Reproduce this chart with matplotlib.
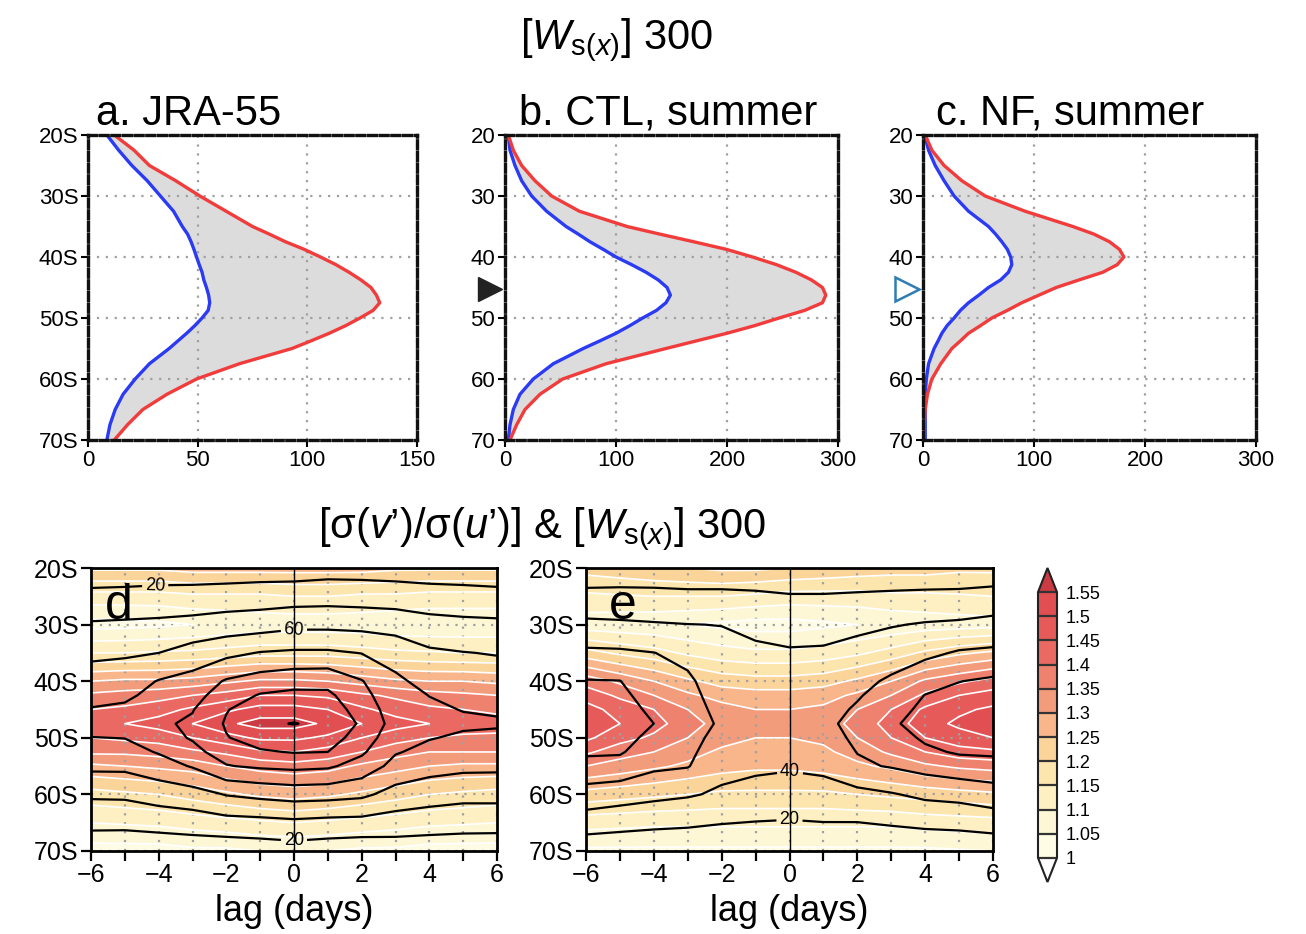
import numpy as np
import matplotlib
matplotlib.use("Agg")
import matplotlib.pyplot as plt
from matplotlib.colors import ListedColormap, BoundaryNorm
from matplotlib.transforms import blended_transform_factory

plt.rcParams['font.family'] = ['Liberation Sans', 'DejaVu Sans']
plt.rcParams['mathtext.fontset'] = 'custom'
plt.rcParams['mathtext.rm'] = 'Liberation Sans'
plt.rcParams['mathtext.it'] = 'Liberation Sans:italic'

# ---- profiles (top row), latitude in deg S ----
lat_prof = [20, 22.5, 25, 27.5, 30, 32.5, 35, 36.25, 37.5, 38.75, 40, 41.25, 42.5, 43.75,
            45, 46.25, 47.5, 48.75, 50, 51.25, 52.5, 53.75, 55, 57.5, 60, 62.5, 65, 67.5, 70]

jra_red = [12, 21, 28, 40, 51, 63, 75, 82.7, 90, 98.6, 106, 113, 119, 124.4,
           129, 131.5, 133, 130, 124, 117.5, 110, 101.7, 93, 69, 49.5, 36, 25, 18, 12]
jra_blue = [8.6, 14, 20, 27, 33, 39, 43, 45.4, 47, 48.3, 49.5, 50.7, 52, 52.8,
            54, 55, 55.5, 54.8, 52, 48.7, 45, 41, 37, 28, 21.5, 16, 12.4, 10, 8.6]

ctl_red = [3, 7.5, 15, 27, 42, 67, 110, 139.5, 170, 199.5, 223, 244.5, 262, 276,
           286, 289, 286, 270, 247, 225, 200, 172.5, 145, 91, 52, 31.5, 18, 10.5, 4.5]
ctl_blue = [3, 4.5, 9, 15, 24, 37.5, 55, 66, 76.5, 88.5, 100, 114, 127, 138,
            146, 149, 145, 136.5, 124, 112.5, 100, 85.5, 70.5, 43.5, 25.5, 13.5, 7.5, 4.5, 3]

nf_red = [2, 8, 19, 35, 56, 92, 135, 154, 168, 177, 181, 175, 162, 140.7,
          120, 104.5, 89, 76, 62, 51.8, 41, 33.7, 26, 16, 8, 4, 2, 1, 0.5]
nf_blue = [1.5, 5, 11, 19, 28, 41, 59, 65.4, 71, 76, 79, 80, 77, 70,
           59, 50.3, 41, 33.7, 28, 21.7, 17, 13.6, 10, 5, 3, 2, 2, 2, 2]

# ---- lag-latitude fields (bottom row) ----
lags = [-6, -5, -4, -3, -2, -1, 0, 1, 2, 3, 4, 5, 6]
lat_grid = [20, 25, 30, 35, 40, 42.5, 45, 47.5, 50, 52.5, 55, 60, 65, 70]

# [sigma(v')/sigma(u')], panel d
ratio_d = [
    [1.26, 1.26, 1.26, 1.27, 1.27, 1.27, 1.27, 1.27, 1.27, 1.26, 1.26, 1.26, 1.26],
    [1.13, 1.13, 1.13, 1.14, 1.14, 1.14, 1.15, 1.15, 1.14, 1.14, 1.13, 1.13, 1.13],
    [1.03, 1.035, 1.04, 1.05, 1.06, 1.07, 1.07, 1.07, 1.07, 1.06, 1.06, 1.06, 1.06],
    [1.15, 1.15, 1.155, 1.16, 1.17, 1.18, 1.18, 1.18, 1.17, 1.16, 1.155, 1.15, 1.15],
    [1.30, 1.31, 1.31, 1.32, 1.34, 1.36, 1.36, 1.35, 1.33, 1.31, 1.30, 1.30, 1.29],
    [1.36, 1.37, 1.38, 1.40, 1.42, 1.45, 1.45, 1.44, 1.41, 1.39, 1.37, 1.36, 1.35],
    [1.40, 1.41, 1.43, 1.46, 1.49, 1.52, 1.52, 1.50, 1.46, 1.43, 1.41, 1.40, 1.39],
    [1.44, 1.45, 1.47, 1.50, 1.54, 1.57, 1.57, 1.54, 1.50, 1.47, 1.45, 1.43, 1.42],
    [1.40, 1.41, 1.42, 1.45, 1.48, 1.51, 1.51, 1.49, 1.45, 1.42, 1.40, 1.39, 1.39],
    [1.36, 1.36, 1.37, 1.39, 1.41, 1.44, 1.45, 1.43, 1.40, 1.37, 1.35, 1.35, 1.35],
    [1.29, 1.30, 1.31, 1.32, 1.35, 1.37, 1.38, 1.37, 1.34, 1.32, 1.30, 1.29, 1.29],
    [1.18, 1.19, 1.20, 1.22, 1.24, 1.26, 1.27, 1.26, 1.24, 1.22, 1.20, 1.19, 1.18],
    [1.10, 1.105, 1.11, 1.12, 1.13, 1.14, 1.15, 1.14, 1.13, 1.12, 1.11, 1.105, 1.10],
    [1.03, 1.03, 1.03, 1.04, 1.04, 1.05, 1.05, 1.05, 1.04, 1.04, 1.03, 1.03, 1.03],
]
# [Ws(x)] 300, panel d
ws_d = [
    [8, 8.5, 9, 9, 9, 10, 10, 12, 12, 11, 10, 9, 8],
    [25, 25.7, 27, 27.5, 29, 30, 31, 32, 31, 30, 28, 27.3, 26],
    [42, 43, 44, 46, 49, 51, 55, 55, 54, 52, 47, 44.8, 44],
    [56, 57.6, 60, 68, 75, 81, 83, 83, 79.5, 72.5, 63, 60.6, 59],
    [69, 70.4, 81, 87, 102, 109, 113, 114, 101, 83.5, 74, 70, 69],
    [74.4, 76.5, 86, 93, 110, 121.5, 124.7, 123.8, 106.4, 86.5, 79.7, 74.7, 73.3],
    [81, 83.4, 93, 99, 119, 129.5, 133, 130, 112, 89.6, 83, 79.4, 78],
    [88, 91, 97, 103, 122, 137, 140.6, 136, 117, 92, 86, 83, 82],
    [79.5, 80.4, 93, 101.5, 119, 128, 131, 128, 112, 86, 81, 77.2, 76],
    [71.6, 72.3, 81.5, 95, 108, 118, 121, 120, 103, 81.5, 74.5, 70.8, 70],
    [64, 64.2, 71, 81.6, 99, 103, 105, 103, 92, 73.6, 67, 64.4, 64],
    [43, 43.6, 49, 52, 61, 65, 68, 67, 64, 53, 49, 46, 46],
    [25, 24.7, 27, 30, 33, 34, 36, 34, 33.5, 31, 28.5, 27, 27],
    [7, 7, 7, 7, 7, 9, 11, 9, 7, 9, 9, 8.7, 8],
]

# [sigma(v')/sigma(u')], panel e
ratio_e = [
    [1.22, 1.23, 1.24, 1.25, 1.26, 1.26, 1.25, 1.24, 1.23, 1.22, 1.22, 1.21, 1.21],
    [1.14, 1.145, 1.15, 1.15, 1.15, 1.14, 1.13, 1.13, 1.13, 1.14, 1.14, 1.145, 1.15],
    [1.07, 1.065, 1.06, 1.05, 1.04, 1.03, 1.03, 1.04, 1.05, 1.06, 1.07, 1.075, 1.08],
    [1.22, 1.19, 1.17, 1.14, 1.12, 1.11, 1.11, 1.12, 1.14, 1.17, 1.21, 1.24, 1.26],
    [1.38, 1.34, 1.30, 1.26, 1.23, 1.22, 1.22, 1.23, 1.26, 1.30, 1.36, 1.39, 1.42],
    [1.43, 1.39, 1.35, 1.31, 1.28, 1.27, 1.27, 1.28, 1.31, 1.35, 1.41, 1.45, 1.47],
    [1.47, 1.43, 1.40, 1.35, 1.32, 1.30, 1.30, 1.31, 1.35, 1.40, 1.46, 1.49, 1.51],
    [1.49, 1.45, 1.42, 1.37, 1.33, 1.31, 1.31, 1.32, 1.37, 1.42, 1.48, 1.51, 1.53],
    [1.46, 1.42, 1.39, 1.35, 1.32, 1.30, 1.30, 1.31, 1.35, 1.40, 1.45, 1.48, 1.50],
    [1.41, 1.37, 1.35, 1.32, 1.29, 1.28, 1.28, 1.29, 1.32, 1.36, 1.40, 1.43, 1.44],
    [1.35, 1.33, 1.31, 1.29, 1.27, 1.26, 1.26, 1.27, 1.29, 1.31, 1.34, 1.36, 1.37],
    [1.23, 1.22, 1.21, 1.20, 1.19, 1.19, 1.19, 1.19, 1.20, 1.21, 1.22, 1.23, 1.24],
    [1.12, 1.115, 1.11, 1.11, 1.11, 1.11, 1.11, 1.11, 1.11, 1.11, 1.12, 1.125, 1.13],
    [1.04, 1.04, 1.04, 1.04, 1.04, 1.04, 1.04, 1.04, 1.04, 1.04, 1.04, 1.045, 1.05],
]
# [Ws(x)] 300, panel e
ws_e = [
    [7, 8.5, 8.5, 8, 8, 9, 9, 9, 8, 7.5, 7, 6.5, 7],
    [25.5, 25.4, 25, 24, 24, 22.7, 21, 21, 22, 23, 24, 24.7, 27],
    [44, 42.9, 41.5, 40.3, 39.7, 36, 33, 33, 36, 38.8, 41.5, 43, 46],
    [63.6, 62.9, 60.3, 55, 45, 43, 41.7, 42.4, 46, 51, 56, 61.8, 63.6],
    [81, 80.4, 68, 63, 50, 47, 46, 48, 55, 62.7, 72.5, 79.6, 83],
    [86, 84.3, 72, 65.5, 52, 49, 48, 51, 58.5, 67.5, 80.5, 84.6, 88],
    [91, 88, 76, 67.7, 54.6, 51, 50, 54, 62, 72, 84.7, 89.5, 93],
    [95, 90, 80, 70, 57, 53, 52, 57, 64, 77, 88, 93, 97],
    [89, 87, 74.5, 67, 53, 50, 48.7, 52.6, 63.5, 72, 82.7, 88.5, 91],
    [82.7, 82, 69, 64, 49.7, 46.6, 45.4, 48.3, 60.5, 66.5, 76.5, 82, 83],
    [74, 72.7, 63.5, 61, 46, 43.4, 42, 44, 57, 61.3, 66.8, 71.4, 73.5],
    [52, 48.7, 45, 42, 37, 33.5, 31.4, 32.7, 34.4, 38.6, 44, 46.1, 50.6],
    [30, 26.8, 24.4, 23, 20.7, 19.4, 18.7, 19.7, 19.7, 21.7, 24, 25.3, 28.8],
    [6, 6, 6, 6, 6, 6, 6, 6.7, 5, 6, 6, 6, 5.6],
]

shade_levels = [1.0, 1.05, 1.1, 1.15, 1.2, 1.25, 1.3, 1.35, 1.4, 1.45, 1.5, 1.55]
shade_labels = ['1', '1.05', '1.1', '1.15', '1.2', '1.25', '1.3', '1.35',
                '1.4', '1.45', '1.5', '1.55']
band_colors = ['#FFFCE5', '#FEF7D6', '#FEF0C3', '#FDE5AE', '#FBD49A', '#F8B68A',
               '#F39C7C', '#EE826F', '#EA6963', '#E65A5A', '#E14F52']
over_color = '#CB3B43'

ws_levels_d = [20, 40, 60, 80, 100, 120, 140]
ws_levels_e = [20, 40, 60, 80, 100]

RED = '#F23B3B'
BLUE = '#2B3BF2'

fig = plt.figure(figsize=(13.06, 9.34), dpi=100)

def px(l, t, r, b):
    W, H = 1306.0, 934.0
    return [l / W, (H - b) / H, (r - l) / W, (b - t) / H]

# ------------ top row ------------
top_axes = [
    (px(88, 135, 417, 440), jra_red, jra_blue, [0, 50, 100, 150], 150, True, 'a. JRA-55', 96),
    (px(505, 135, 838, 440), ctl_red, ctl_blue, [0, 100, 200, 300], 300, False, 'b. CTL, summer', 519),
    (px(923, 135, 1256, 440), nf_red, nf_blue, [0, 100, 200, 300], 300, False, 'c. NF, summer', 936),
]
prof_axes = []
for pos, red, blue, xt, xmax, with_s, title, tx in top_axes:
    ax = fig.add_axes(pos)
    ax.fill_betweenx(lat_prof, blue, red, color='#DCDCDC', lw=0)
    ax.plot(blue, lat_prof, color=BLUE, lw=2.4, solid_joinstyle='round')
    ax.plot(red, lat_prof, color=RED, lw=2.4, solid_joinstyle='round')
    ax.set_xlim(0, xmax)
    ax.set_ylim(70, 20)
    ax.set_xticks(xt)
    ax.set_yticks([20, 30, 40, 50, 60, 70])
    if with_s:
        ax.set_yticklabels(['20S', '30S', '40S', '50S', '60S', '70S'])
    ax.grid(True, color='#A0A0A0', linestyle=(0, (1, 3)), lw=1.6)
    for sp in ax.spines.values():
        sp.set_linestyle((0, (2.4, 1.1)))
        sp.set_linewidth(2.4)
        sp.set_color('#111111')
    ax.tick_params(direction='out', length=5, width=1.5, labelsize=16, pad=2)
    fig.text(tx / 1306.0, (934 - 125) / 934.0, title, fontsize=30, va='baseline', ha='left')
    prof_axes.append(ax)

# markers at latitude of jet
tr_b = blended_transform_factory(prof_axes[1].transAxes, prof_axes[1].transData)
prof_axes[1].plot([-0.045], [45.2], marker='>', ms=17, color='#222222', transform=tr_b, clip_on=False)
tr_c = blended_transform_factory(prof_axes[2].transAxes, prof_axes[2].transData)
prof_axes[2].plot([-0.048], [45.2], marker='>', ms=17, mfc='white', mec='#2F7DB5', mew=1.8,
                  transform=tr_c, clip_on=False)

fig.text(617 / 1306.0, (934 - 49) / 934.0, r'[$W_{\mathrm{s}(x)}$] 300', fontsize=30,
         ha='center', va='baseline')
fig.text(542 / 1306.0, (934 - 538) / 934.0,
         r"[σ($v$’)/σ($u$’)] & [$W_{\mathrm{s}(x)}$] 300", fontsize=30,
         ha='center', va='baseline')

# ------------ bottom row ------------
cmap = ListedColormap(band_colors)
cmap.set_over(over_color)
cmap.set_under('white')
norm = BoundaryNorm(shade_levels, cmap.N)

X, Y = np.meshgrid(lags, lat_grid)
bottom = [
    (px(91, 568, 497, 851), ratio_d, ws_d, ws_levels_d, 'd', 105,
     [(-4.1, 23.4), (0, 31.0), (0, 68.2)]),
    (px(586, 568, 993, 851), ratio_e, ws_e, ws_levels_e, 'e', 609,
     [(0, 56.6), (0, 64.5)]),
]
for pos, ratio, ws, wlev, lab, lx, lab_pos in bottom:
    ax = fig.add_axes(pos)
    Z = np.array(ratio)
    cf = ax.contourf(X, Y, Z, levels=shade_levels, cmap=cmap, norm=norm, extend='both')
    ax.contour(X, Y, Z, levels=shade_levels, colors='white', linewidths=1.2)
    cs = ax.contour(X, Y, np.array(ws), levels=wlev, colors='black', linewidths=1.6)
    ax.clabel(cs, manual=lab_pos, fmt='%d', fontsize=13, inline=True, inline_spacing=3)
    ax.axvline(0, color='black', lw=1.0)
    ax.set_xlim(-6, 6)
    ax.set_ylim(70, 20)
    ax.set_xticks([-6, -4, -2, 0, 2, 4, 6])
    ax.set_xticks([-5, -3, -1, 1, 3, 5], minor=True)
    ax.set_yticks([20, 30, 40, 50, 60, 70])
    ax.set_yticklabels(['20S', '30S', '40S', '50S', '60S', '70S'])
    ax.grid(True, which='both', axis='x', color='#A0A0A0', linestyle=(0, (1, 3)), lw=1.6)
    ax.grid(True, which='major', axis='y', color='#A0A0A0', linestyle=(0, (1, 3)), lw=1.6)
    for sp in ax.spines.values():
        sp.set_linewidth(2.0)
    ax.tick_params(which='both', direction='out', length=7, width=1.6, labelsize=18, pad=2)
    ax.text((lx - (pos[0] * 1306)) / (pos[2] * 1306), 0.82, lab, fontsize=36,
            transform=ax.transAxes, va='baseline')
    cx = pos[0] + pos[2] / 2
    fig.text(cx, (934 - 921) / 934.0, 'lag (days)', fontsize=26, ha='center', va='baseline')

cax = fig.add_axes(px(1038, 568, 1057, 882))
cb = fig.colorbar(cf, cax=cax, ticks=shade_levels, drawedges=True, extendfrac='auto')
cb.set_ticklabels(shade_labels)
cb.outline.set_linewidth(1.5)
cb.outline.set_edgecolor('#222222')
cb.dividers.set_color('#333333')
cb.dividers.set_linewidth(1.6)
cax.tick_params(length=0, labelsize=13, pad=6)

fig.savefig('out.png', dpi=100)
